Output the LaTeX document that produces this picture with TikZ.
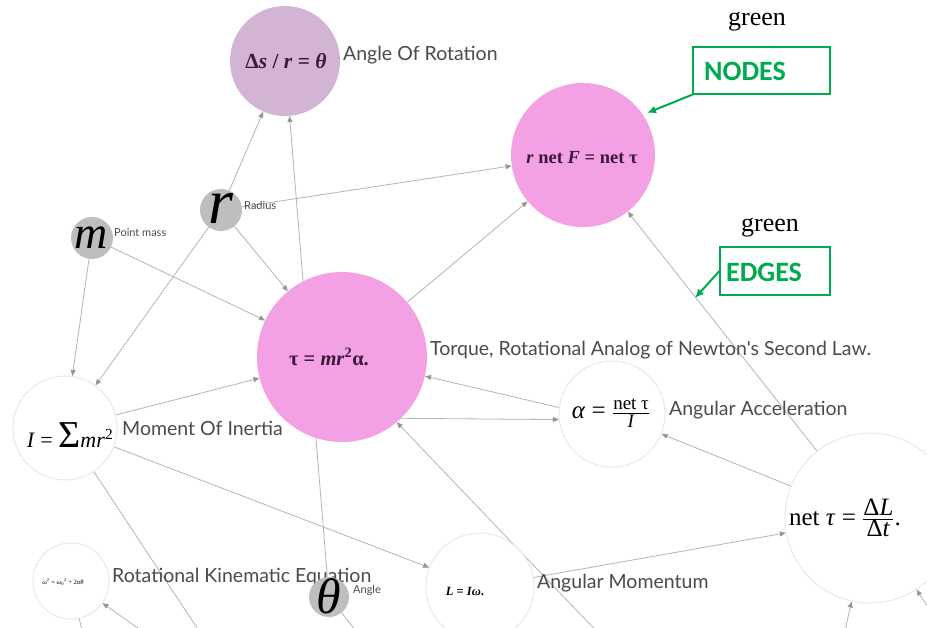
\documentclass[tikz,border=0pt]{standalone}
\usepackage{fontspec}
\setmainfont{Liberation Serif}
\newfontfamily\lato{Lato}
\newfontfamily\carl{Carlito}
\usetikzlibrary{arrows.meta}
\pgfdeclarelayer{bg}
\pgfsetlayers{bg,main}
\definecolor{pinkn}{RGB}{244,160,228}
\definecolor{mauven}{RGB}{210,181,211}
\definecolor{grayn}{RGB}{190,190,190}
\definecolor{ringc}{RGB}{232,232,232}
\definecolor{edgec}{RGB}{180,180,180}
\definecolor{tipc}{RGB}{150,150,150}
\definecolor{labc}{RGB}{75,75,75}
\definecolor{gr}{RGB}{0,170,80}
\definecolor{formc}{RGB}{60,25,60}
\newcommand{\fsz}[1]{\fontsize{#1}{#1}\selectfont}
\newcommand{\hfr}[2]{$\frac{\hbox{#1}}{\hbox{#2}}$}
\begin{document}
\begin{tikzpicture}[x=1pt,y=-1pt,
  circ/.style={circle,inner sep=0pt,minimum size=#1},
  ring/.style={draw=ringc,line width=1pt,fill=white},
  edge/.style={draw=edgec,line width=0.8pt,-{Triangle[length=6pt,width=5pt,color=tipc]}},
  edgeplain/.style={draw=edgec,line width=0.8pt},
  labeltext/.style={font=\lato\fsz{19.5}, text=labc, anchor=west, inner sep=0pt},
  smalltext/.style={font=\lato\fsz{11}, text=labc, anchor=west, inner sep=0pt},
  formula/.style={inner sep=0pt, text=formc},
  greenbox/.style={draw=gr,line width=1.3pt,inner sep=0pt},
  greentext/.style={font=\carl\bfseries\fsz{28}, text=gr, inner sep=0pt},
  greenword/.style={font=\fsz{26}, inner sep=0pt},
  garrow/.style={draw=gr,line width=2pt,-{Latex[length=9pt,width=8pt]}}
]
\useasboundingbox (0,0) rectangle (927,628);

% circles
\node[circ=110pt,fill=mauven] (A) at (285,61) {};
\node[circ=144pt,fill=pinkn] (F) at (583,155) {};
\node[circ=170pt,fill=pinkn] (T) at (342,357) {};
\node[circ=42pt,fill=grayn] (R) at (221,210) {};
\node[circ=42pt,fill=grayn] (M) at (92,238) {};
\node[circ=104pt,ring] (I) at (65,428) {};
\node[circ=106pt,ring] (AL) at (612,414) {};
\node[circ=170pt,ring] (N) at (870,518) {};
\node[circ=108pt,ring] (L) at (480,587) {};
\node[circ=76pt,ring] (K) at (71,581) {};

% off-picture ends
\coordinate (o1) at (205,640);
\coordinate (o2) at (360,636);
\coordinate (o3) at (84,640);
\coordinate (o4) at (155,640);
\coordinate (o5) at (605,640);
\coordinate (o6) at (843,640);
\coordinate (o7) at (935,618);

% formulas
\node[formula,font=\fsz{21.5}\bfseries] at (286,61) {Δ\textit{s} / \textit{r} = \textit{θ}};
\node[formula,font=\fsz{18.5}\bfseries] at (582,158) {\textit{r} net \textit{F} = net τ};
\node[formula,font=\fsz{20.5}\bfseries] at (329,357) {τ = \textit{mr}\textsuperscript{2}α.};
\node[formula,text=black,font=\fsz{22}] at (70,435) {\textit{I} = {\fsz{38}Σ}\textit{mr}\textsuperscript{2}};
\node[formula,text=black,font=\fsz{25}] at (611,413) {\textit{α} = \hfr{\fsz{19}net τ}{\fsz{19}\textit{I}}};
\node[formula,text=black,font=\fsz{25}] at (845,518) {net \textit{τ} = \hfr{Δ\textit{L}}{Δ\textit{t}}.};
\node[formula,text=black,font=\fsz{12.5}\bfseries] at (465,591) {\textit{L} = \textit{Iω}.};
\node[formula,text=black,font=\fsz{6.5}] at (63,582) {\textit{ω}\textsuperscript{2} = \textit{ω}\textsubscript{0}\textsuperscript{2} + 2\textit{αθ}};
\node[formula,text=black,font=\fsz{46}\itshape] at (91,238) {m};
\node[formula,text=black,font=\fsz{64}\itshape] at (221,208) {r};

% labels
\node[labeltext] at (343,55) {Angle Of Rotation};
\node[smalltext] at (114,233) {Point mass};
\node[smalltext] at (244,205) {Radius};
\node[labeltext] at (430,350) {Torque, Rotational Analog of Newton's Second Law.};
\node[labeltext] at (122,428) {Moment Of Inertia};
\node[labeltext] at (669,410) {Angular Acceleration};
\node[labeltext] at (112,577) {Rotational Kinematic Equation};
\node[labeltext] at (537,583) {Angular Momentum};

% theta node (drawn over the label)
\node[circ=40pt,fill=grayn] (TH) at (329,597) {};
\node[formula,text=black,font=\fsz{50}\itshape] at (329,596) {θ};
\node[smalltext] at (353,590) {Angle};

% green annotations
\node[greenbox,minimum width=137pt,minimum height=47pt] (nodesbox) at (761.5,70.5) {};
\node[greentext] at (745,71) {NODES};
\node[greenword] at (757,22) {green};
\node[greenbox,minimum width=110pt,minimum height=48pt] (edgesbox) at (775,271) {};
\node[greentext] at (764,272) {EDGES};
\node[greenword] at (770,228) {green};
\coordinate (nodestip) at (647,113);
\coordinate (edgestip) at (695,298);
\draw[garrow] (nodesbox.south west) -- (nodestip);
\draw[garrow] (edgesbox.west) -- (edgestip);

% edges
\begin{pgfonlayer}{bg}
\fill[white] (0,0) rectangle (927,628);
\draw[edge] (R) -- (A);
\draw[edge] (TH) -- (A);
\draw[edge] (R) -- (F);
\draw[edge] (R) -- (T);
\draw[edge] (R) -- (I);
\draw[edge] (M) -- (T);
\draw[edge] (M) -- (I);
\draw[edge] (I) -- (T);
\draw[edge] (T) -- (F);
\draw[edge] (AL.173) -- (T.-13);
\draw[edge] (T.-46) -- (AL.186);
\draw[edge] (o5) -- (T.-50);
\draw[edge] (N) -- (F);
\draw[edge] (N) -- (AL);
\draw[edge] (L) -- (N);
\draw[edge] (I) -- (L);
\draw[edgeplain] (I) -- (o1);
\draw[edgeplain] (TH) -- (o2);
\draw[edgeplain] (K) -- (o3);
\draw[edge] (o4) -- (K);
\draw[edge] (o6) -- (N);
\draw[edge] (o7) -- (N);
\end{pgfonlayer}
\end{tikzpicture}
\end{document}
